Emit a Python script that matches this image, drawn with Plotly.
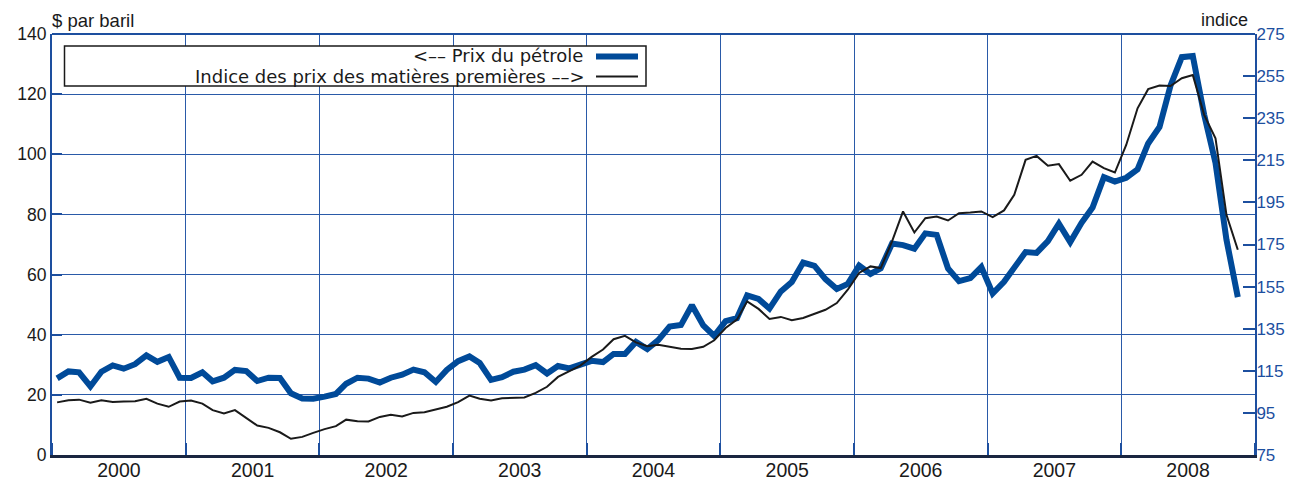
import plotly.graph_objects as go

# ---------------- data ----------------
years = list(range(2000, 2009))
dates = [f"{y}-{m:02d}-15" for y in years for m in range(1, 13)][:107]

# Prix du pétrole ($ par baril), monthly Jan 2000 - Nov 2008
oil = [
    25.5, 27.8, 27.5, 22.8, 27.7, 29.8, 28.7, 30.2, 33.1, 31.0, 32.6, 25.7,
    25.6, 27.5, 24.5, 25.7, 28.3, 27.9, 24.6, 25.7, 25.6, 20.5, 18.8, 18.7,
    19.4, 20.3, 23.7, 25.7, 25.4, 24.1, 25.7, 26.7, 28.4, 27.5, 24.3, 28.3,
    31.2, 32.8, 30.6, 25.0, 25.9, 27.7, 28.4, 29.9, 27.1, 29.6, 28.8, 29.8,
    31.3, 30.9, 33.6, 33.6, 37.6, 35.2, 38.2, 42.7, 43.2, 49.8, 43.1, 39.6,
    44.5, 45.5, 53.1, 51.9, 48.7, 54.4, 57.5, 64.0, 62.9, 58.5, 55.2, 56.9,
    63.0, 60.2, 62.1, 70.3, 69.8, 68.6, 73.7, 73.2, 62.0, 57.8, 58.8, 62.5,
    53.7, 57.6, 62.1, 67.5, 67.2, 71.1, 76.9, 70.8, 77.2, 82.3, 92.4, 90.9,
    92.2, 95.0, 103.6, 109.1, 122.8, 132.3, 132.7, 113.2, 97.2, 71.6, 52.5,
]

# Indice des prix des matières premières (indice), monthly Jan 2000 - Nov 2008
commodity = [
    100.0, 101.0, 101.3, 99.8, 101.0, 100.2, 100.4, 100.5, 101.7, 99.4, 97.9, 100.4,
    100.9, 99.4, 96.3, 94.7, 96.3, 92.6, 89.0, 87.9, 85.8, 82.7, 83.6, 85.5,
    87.3, 88.7, 91.8, 91.0, 90.9, 93.1, 94.1, 93.3, 95.0, 95.3, 96.6, 97.9,
    100.1, 103.2, 101.7, 100.9, 102.0, 102.3, 102.3, 104.5, 107.4, 112.1, 114.8, 117.5,
    121.6, 125.1, 130.0, 131.6, 128.5, 126.7, 127.4, 126.5, 125.5, 125.4, 126.4, 129.5,
    135.3, 139.3, 148.0, 144.4, 139.6, 140.6, 139.0, 140.1, 142.1, 144.0, 147.2, 153.5,
    161.5, 164.6, 163.8, 176.5, 190.7, 180.7, 187.5, 188.3, 186.4, 189.9, 190.2, 190.7,
    188.0, 191.2, 198.6, 215.2, 217.1, 212.4, 213.2, 205.3, 208.1, 214.4, 211.3, 209.2,
    222.3, 239.7, 248.8, 250.5, 250.3, 254.0, 255.5, 236.6, 225.5, 189.1, 172.5,
]

left_ticks = [0, 20, 40, 60, 80, 100, 120, 140]
right_ticks = [75, 95, 115, 135, 155, 175, 195, 215, 235, 255, 275]

oil_name = "<–– Prix du pétrole"
com_name = "Indice des prix des matières premières ––>"
left_title = "$ par baril"
right_title = "indice"

# ---------------- style ----------------
OFF = 8  # default page body margin of the written html
W, H = 1298 - OFF, 484 - OFF
ML, MT = 52 - OFF, 34 - OFF          # plot area left/top on the page: 52, 34
MR = W - (1255 - OFF)                # plot area right on the page: 1255
MB = H - (455.5 - OFF)               # plot area bottom on the page: 455.5
PW, PH = W - ML - MR, H - MT - MB
FONT = "Liberation Sans, Arial, Helvetica, sans-serif"
LEGFONT = "DejaVu Sans, Liberation Sans, sans-serif"
BLUE = "#004a99"
GRID = "#2a5aa8"
AXBLUE = "#1d4f9f"
DARK = "#1a2640"


def px(x):
    """page pixel x -> paper fraction"""
    return (x - OFF - ML) / PW


def py(y):
    """page pixel y -> paper fraction"""
    return (MT + PH - (y - OFF)) / PH


fig = go.Figure()
fig.add_trace(go.Scatter(x=dates, y=oil, mode="lines", name=oil_name,
                         line=dict(color=BLUE, width=6), yaxis="y",
                         showlegend=False))
fig.add_trace(go.Scatter(x=dates, y=commodity, mode="lines", name=com_name,
                         line=dict(color="#1a1a1a", width=2), yaxis="y2",
                         showlegend=False))

fig.update_layout(
    width=W, height=H,
    margin=dict(l=ML, r=MR, t=MT, b=MB, pad=0),
    paper_bgcolor="white", plot_bgcolor="white",
    font=dict(family=FONT, color="#1a1a1a"),
    xaxis=dict(
        type="date", range=["2000-01-01", "2009-01-01"],
        tick0="2000-01-01", dtick="M12", ticklabelmode="period",
        tickformat="%Y", tickfont=dict(size=19.5, color="#1a1a1a"),
        ticklabelstandoff=-4,
        showgrid=True, gridcolor=GRID, gridwidth=1,
        ticks="inside", ticklen=12, tickwidth=2, tickcolor=AXBLUE,
        showline=True, linecolor=DARK, linewidth=2.5,
        zeroline=False, automargin=False,
    ),
    yaxis=dict(
        range=[0, 140], tickvals=left_ticks,
        tickfont=dict(size=17.5, color="#1a1a1a"),
        showgrid=True, gridcolor=GRID, gridwidth=1,
        ticks="inside", ticklen=10, tickwidth=2, tickcolor=AXBLUE,
        showline=True, linecolor=AXBLUE, linewidth=2,
        zeroline=False, automargin=False,
    ),
    yaxis2=dict(
        range=[75, 275], tickvals=right_ticks, overlaying="y", side="right",
        tickfont=dict(size=17, color=AXBLUE),
        showgrid=False, ticklabelstandoff=-4,
        ticks="inside", ticklen=12, tickwidth=2, tickcolor=AXBLUE,
        showline=True, linecolor=AXBLUE, linewidth=2,
        zeroline=False, automargin=False,
    ),
)

shapes = [
    # top border
    dict(type="line", xref="paper", yref="paper", x0=0, x1=1, y0=1, y1=1,
         line=dict(color=AXBLUE, width=2), layer="above"),
    # legend box
    dict(type="rect", xref="paper", yref="paper",
         x0=px(64.5), x1=px(646), y0=py(86), y1=py(46),
         line=dict(color="#1a1a1a", width=1.5), fillcolor="white", layer="above"),
    dict(type="line", xref="paper", yref="paper",
         x0=px(596), x1=px(638), y0=py(56.5), y1=py(56.5),
         line=dict(color=BLUE, width=6), layer="above"),
    dict(type="line", xref="paper", yref="paper",
         x0=px(596), x1=px(638), y0=py(76.5), y1=py(76.5),
         line=dict(color="#1a1a1a", width=2), layer="above"),
]
fig.update_layout(shapes=shapes)

annotations = [
    dict(text=oil_name, xref="paper", yref="paper", x=px(584), y=py(56),
         xanchor="right", yanchor="middle", showarrow=False, borderpad=0,
         font=dict(size=18, color="#1a1a1a", family=LEGFONT)),
    dict(text=com_name, xref="paper", yref="paper", x=px(586), y=py(77),
         xanchor="right", yanchor="middle", showarrow=False, borderpad=0,
         font=dict(size=18, color="#1a1a1a", family=LEGFONT)),
    dict(text=left_title, xref="paper", yref="paper", x=px(50), y=py(20),
         xanchor="left", yanchor="middle", showarrow=False,
         font=dict(size=18.5, color="#1a1a1a", family=FONT)),
    dict(text=right_title, xref="paper", yref="paper", x=px(1250), y=py(20),
         xanchor="right", yanchor="middle", showarrow=False,
         font=dict(size=18, color="#1a1a1a", family=FONT)),
]
fig.update_layout(annotations=annotations)

fig.write_html("out.html")
